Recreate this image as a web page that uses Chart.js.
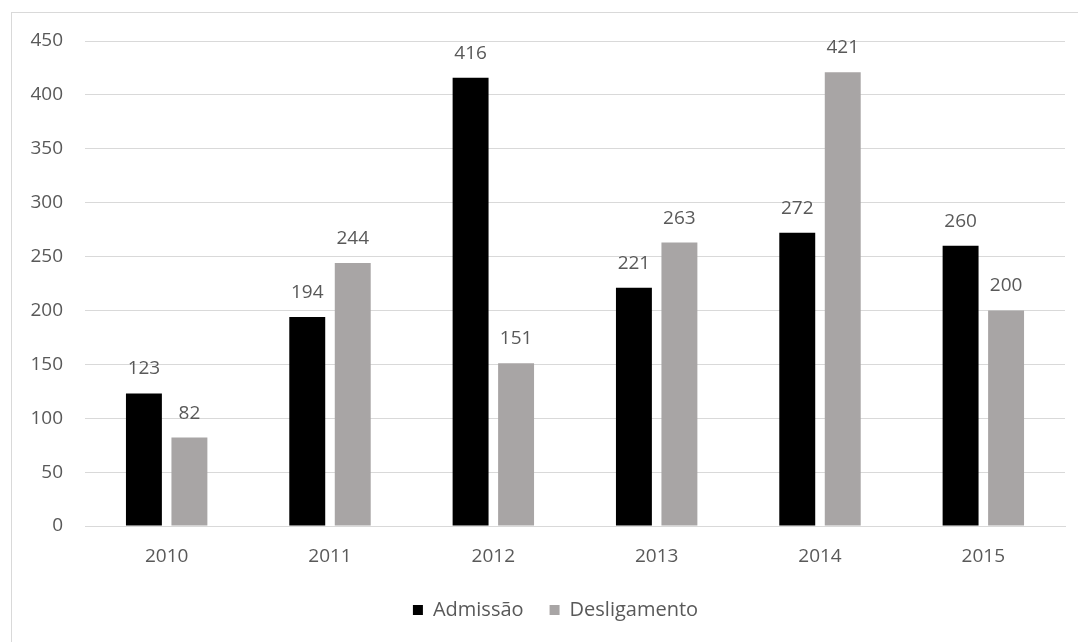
<!DOCTYPE html>
<html>
<head>
<meta charset="utf-8">
<script src="https://cdn.jsdelivr.net/npm/chart.js@4/dist/chart.umd.min.js"></script>
<style>
  html, body { margin: 0; padding: 0; background: #fff; overflow: hidden; }
  #frame {
    position: absolute; left: 11px; top: 12px; width: 1100px; height: 700px;
    border: 1px solid #d9d9d9; box-sizing: border-box;
  }
  #wrap { position: absolute; left: 0; top: 0; width: 1078px; height: 642px; }
</style>
</head>
<body>
<div id="frame"></div>
<div id="wrap"><canvas id="chart" width="1078" height="642"></canvas></div>
<script>
const years = ['2010', '2011', '2012', '2013', '2014', '2015'];
const admissao = [123, 194, 416, 221, 272, 260];
const desligamento = [82, 244, 151, 263, 421, 200];
const yTicks = [0, 50, 100, 150, 200, 250, 300, 350, 400, 450];

const textColor = '#595959';
const fontFamily = '"Open Sans", "Segoe UI", sans-serif';

// value labels above each bar
const barValues = {
  id: 'barValues',
  afterDatasetsDraw(chart) {
    const ctx = chart.ctx;
    ctx.save();
    ctx.font = '19px ' + fontFamily;
    ctx.fillStyle = textColor;
    ctx.textAlign = 'center';
    ctx.textBaseline = 'alphabetic';
    chart.data.datasets.forEach((ds, i) => {
      chart.getDatasetMeta(i).data.forEach((bar, j) => {
        ctx.fillText(String(ds.data[j]), bar.x, bar.y - 19);
      });
    });
    ctx.restore();
  }
};

// nudge the legend a bit to the right
const legendShift = {
  id: 'legendShift',
  afterLayout(chart) {
    const lg = chart.legend;
    if (!lg) return;
    lg.left += 23; lg.right += 23;
  }
};

new Chart(document.getElementById('chart'), {
  type: 'bar',
  data: {
    labels: years,
    datasets: [
      {
        label: 'Admissão',
        data: admissao,
        backgroundColor: '#000000',
        barPercentage: 0.79,
        categoryPercentage: 0.557
      },
      {
        label: 'Desligamento',
        data: desligamento,
        backgroundColor: '#a8a5a5',
        barPercentage: 0.79,
        categoryPercentage: 0.557
      }
    ]
  },
  options: {
    responsive: false,
    animation: false,
    layout: { padding: { left: 0, right: 13, top: 41, bottom: 12 } },
    plugins: {
      tooltip: { enabled: false },
      legend: {
        position: 'bottom',
        labels: {
          boxWidth: 10,
          boxHeight: 10,
          padding: 26,
          color: textColor,
          font: { family: fontFamily, size: 20 }
        }
      }
    },
    scales: {
      x: {
        grid: { display: false },
        border: { color: '#d9d9d9' },
        ticks: { color: textColor, padding: 11, font: { family: fontFamily, size: 19 } },
        afterFit(scale) { scale.height = 48; }
      },
      y: {
        min: 0,
        max: 450,
        afterBuildTicks(scale) { scale.ticks = yTicks.map(v => ({ value: v })); },
        grid: { color: '#d9d9d9', drawTicks: false },
        border: { display: false },
        ticks: { color: textColor, padding: 22, font: { family: fontFamily, size: 19 } },
        afterFit(scale) { scale.width = 85; }
      }
    }
  },
  plugins: [barValues, legendShift]
});
</script>
</body>
</html>
